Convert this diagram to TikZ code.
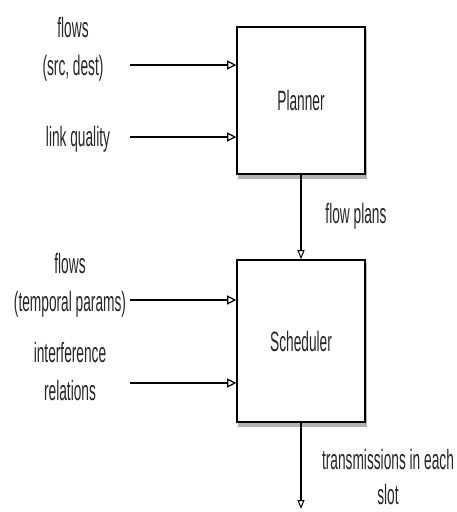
\documentclass[tikz,border=0pt]{standalone}
\usepackage{fontspec}
\newfontfamily\diagfont{Liberation Sans}[FakeStretch=0.49]
\usepackage{tikz}
\usetikzlibrary{positioning,arrows.meta,backgrounds}

\begin{document}
\begin{tikzpicture}[x=1pt,y=-1pt,
  every node/.style={font=\diagfont\fontsize{28}{38}\selectfont,text=black!85},
  block/.style={draw,line width=1.6pt,fill=white,minimum width=128pt},
  blockshadow/.style={fill=black!30},
  input/.style={line width=2.2pt,-{Triangle[open,length=9pt,width=9pt,line width=1.2pt]}},
  flowline/.style={line width=1.2pt,-{Triangle[open,length=9pt,width=7pt,line width=1pt]}},
  lbl/.style={align=center,inner sep=0pt}
]
\useasboundingbox (0,0) rectangle (456,512);

% the two blocks
\node[block,minimum height=147pt] (planner) at (301,100.5) {Planner};
\node[block,minimum height=162pt] (scheduler) at (301,341) {Scheduler};

% shadows under the blocks
\begin{scope}[on background layer]
\fill[blockshadow] ([xshift=1.5pt,yshift=-4pt]planner.north west) rectangle ([xshift=1.5pt,yshift=-4pt]planner.south east);
\fill[blockshadow] ([xshift=1.5pt,yshift=-4pt]scheduler.north west) rectangle ([xshift=1.5pt,yshift=-4pt]scheduler.south east);
\end{scope}

% input labels
\node[lbl] (srcdest) at (73,49) {flows\\(src, dest)};
\node[lbl] (linkq) at (78,139) {link quality};
\node[lbl] (tparams) at (70,285) {flows\\(temporal params)};
\node[lbl] (interf) at (70,371) {interference\\relations};
\node[lbl] (plans) at (356,216) {flow plans};
\node[lbl,font=\diagfont\fontsize{28}{35}\selectfont] (slots) at (388,477) {transmissions in each\\slot};

% arrow starts
\coordinate (srcdest-s) at (130,65);
\coordinate (linkq-s) at (130,137);
\coordinate (tparams-s) at (130,300);
\coordinate (interf-s) at (130,383);
\coordinate (out) at (301,509);

\draw[input] (srcdest-s) -- (srcdest-s -| planner.west);
\draw[input] (linkq-s) -- (linkq-s -| planner.west);
\draw[input] (tparams-s) -- (tparams-s -| scheduler.west);
\draw[input] (interf-s) -- (interf-s -| scheduler.west);
\draw[flowline] (planner) -- (scheduler);
\draw[flowline] (scheduler) -- (out);
\end{tikzpicture}
\end{document}
